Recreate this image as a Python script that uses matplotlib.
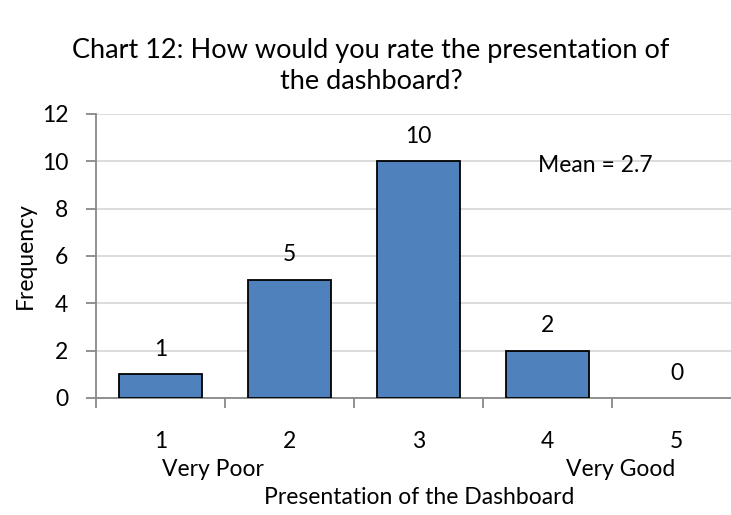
import numpy as np
import matplotlib.pyplot as plt

ratings = [1, 2, 3, 4, 5]
freq = [1, 5, 10, 2, 0]
mean_val = 2.7

plt.rcParams['font.family'] = ['Lato', 'DejaVu Sans']
fs = 16.5

fig = plt.figure(figsize=(7.31, 5.15), dpi=100)
ax = fig.add_axes([96/731, 1-398/515, 645/731, 284/515])

x = np.arange(len(ratings))
edges = ['black' if v > 0 else 'none' for v in freq]
ax.bar(x, freq, width=0.65, color='#4f81bd', edgecolor=edges, linewidth=1.3, zorder=3)
for xi, v in zip(x, freq):
    ax.text(xi, v + 1.05, str(v), ha='center', va='center', fontsize=fs)

ax.set_xlim(-0.5, 4.5)
ax.set_ylim(0, 12)
ax.set_yticks(range(0, 13, 2))
ax.yaxis.grid(True, color='#d9d9d9', linewidth=1.3, zorder=0)
ax.set_axisbelow(True)

ax.set_xticks(x)
ax.set_xticklabels([str(r) for r in ratings])
ax.set_xticks(np.arange(-0.5, 5, 1), minor=True)
ax.tick_params(axis='x', which='major', length=0, pad=24, labelsize=fs)
ax.tick_params(axis='x', which='minor', length=7, color='#888888', width=1.3)
ax.tick_params(axis='y', length=7, color='#888888', width=1.3, labelsize=fs, pad=13)

for s in ['top', 'right']:
    ax.spines[s].set_visible(False)
for s in ['left', 'bottom']:
    ax.spines[s].set_color('#888888')
    ax.spines[s].set_linewidth(1.3)

ax.set_ylabel('Frequency', fontsize=fs, labelpad=4)
ax.text(3.37, 9.84, 'Mean = %.1f' % mean_val, ha='center', va='center', fontsize=fs)

fig.text(371/731, 1-66/515, 'Chart 12: How would you rate the presentation of\nthe dashboard?',
         ha='center', va='center', fontsize=19.5, linespacing=1.3)
fig.text(213/731, 1-470/515, 'Very Poor', ha='center', va='center', fontsize=fs)
fig.text(621/731, 1-470/515, 'Very Good', ha='center', va='center', fontsize=fs)
fig.text(419/731, 1-497/515, 'Presentation of the Dashboard', ha='center', va='center', fontsize=fs)

fig.savefig('out.png', dpi=100)
